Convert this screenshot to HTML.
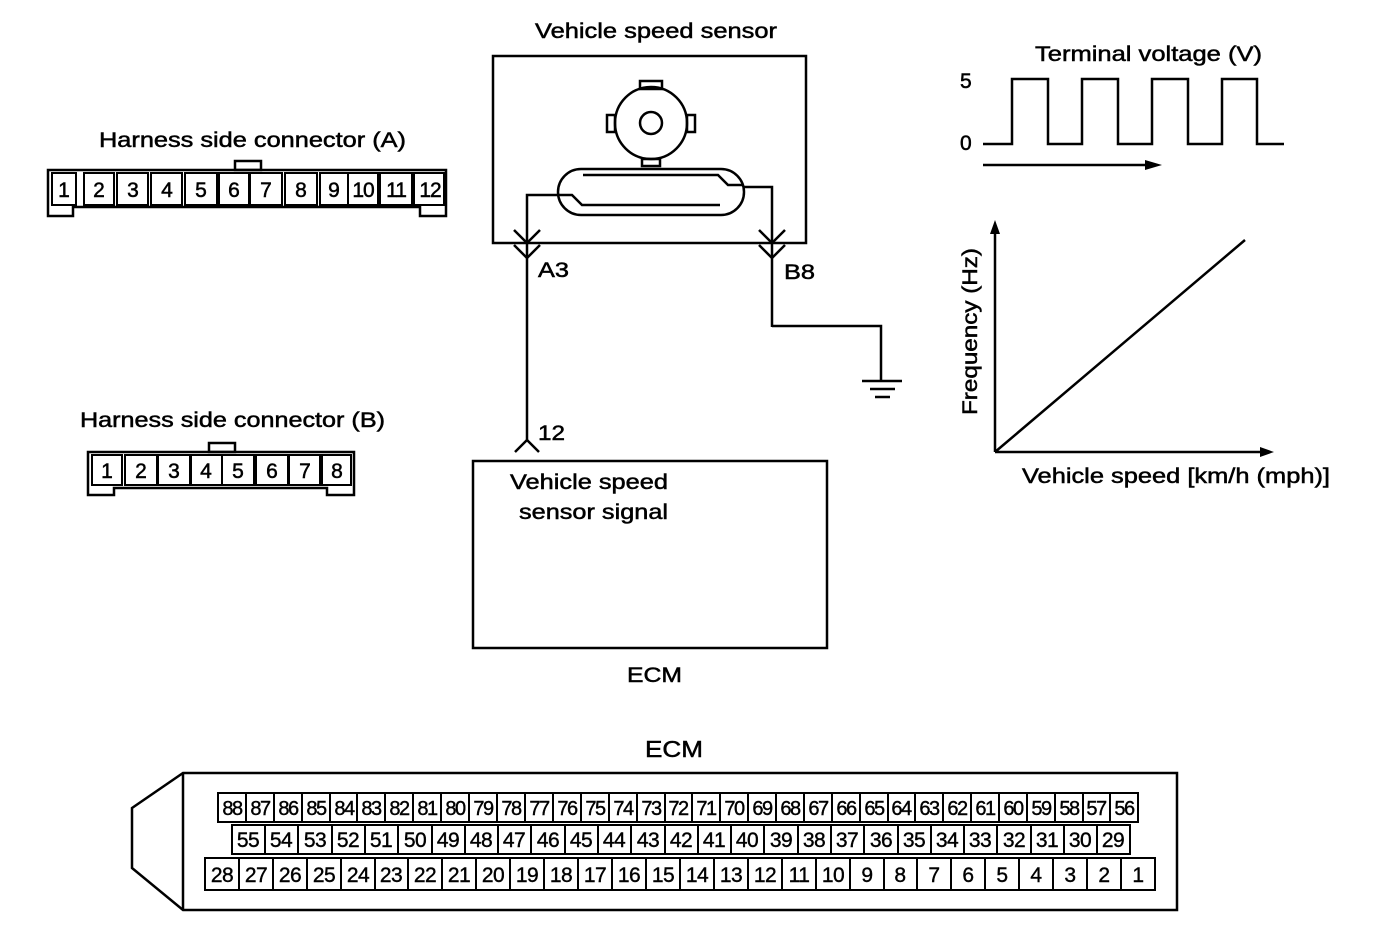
<!DOCTYPE html>
<html><head><meta charset="utf-8"><style>
html,body{margin:0;padding:0;background:#fff;}
svg{display:block;font-family:"Liberation Sans",Arial,sans-serif;}
</style></head><body>
<svg width="1392" height="938" viewBox="0 0 1392 938" xmlns="http://www.w3.org/2000/svg">
<g fill="none" stroke="#000" stroke-width="2.5">
<!-- Connector A -->
<path d="M48 170 H446 V216 H420 V207 H73 V216 H48 Z"/>
<rect x="235" y="161" width="26" height="9"/>
<g stroke-width="2">
<path d="M52 173 V205 H76 V173 Z"/>
<rect x="84" y="173" width="30" height="32"/><rect x="117" y="173" width="31" height="32"/>
<rect x="151" y="173" width="31" height="32"/><rect x="185" y="173" width="32" height="32"/>
<rect x="219" y="173" width="30" height="32"/><rect x="250" y="173" width="32" height="32"/>
<rect x="285" y="173" width="32" height="32"/><rect x="320" y="173" width="28" height="32"/>
<rect x="348" y="173" width="30" height="32"/><rect x="380" y="173" width="32" height="32"/>
<rect x="414" y="173" width="30" height="32"/>
</g>
<!-- Connector B -->
<path d="M88 452 H354 V495 H327 V488 H114 V495 H88 Z"/>
<rect x="209" y="443" width="26" height="9"/>
<g stroke-width="2">
<rect x="92" y="455" width="30" height="30"/><rect x="125" y="455" width="32" height="30"/>
<rect x="158" y="455" width="32" height="30"/><rect x="191" y="455" width="31" height="30"/>
<rect x="222" y="455" width="32" height="30"/><rect x="256" y="455" width="32" height="30"/>
<rect x="289" y="455" width="31" height="30"/><rect x="322" y="455" width="29" height="30"/>
</g>
<!-- Sensor box -->
<rect x="493" y="56" width="313" height="187"/>
<circle cx="651" cy="123" r="36"/>
<circle cx="651" cy="123" r="11"/>
<rect x="640" y="81" width="22" height="8"/><rect x="642" y="159" width="18" height="7"/>
<rect x="607" y="115" width="8" height="17"/><rect x="687" y="115" width="8" height="17"/>
<rect x="558" y="169" width="186" height="46" rx="23"/>
<path d="M583 175 H718 L728 185 H744"/>
<path d="M558 195 H572 L582 205 H720"/>
<path d="M527 270 V195 H558"/>
<path d="M744 187 H772 V327"/>
<path d="M514 230 L527 243 L540 230 M514 245 L527 258 L540 245"/>
<path d="M759 230 L772 243 L785 230 M759 245 L772 258 L785 245"/>
<path d="M527 270 V440"/>
<path d="M515 452 L527 440 L539 452"/>
<path d="M772 326 H881 V381"/>
<path d="M862 381 H902 M870 389 H895 M875 397 H890"/>
<!-- ECM box -->
<rect x="473" y="461" width="354" height="187"/>
<!-- waveform -->
<path d="M983 144 H1012 V79 H1048 V144 H1082 V79 H1118 V144 H1152 V79 H1188 V144 H1222 V79 H1257 V144 H1284"/>
<path d="M983 165 H1148"/>
<!-- graph -->
<path d="M995 452 V232 M995 452 H1262 M995 452 L1245 240"/>
<!-- ECM connector -->
<path d="M183 773 H1177 V910 H183 L132 868 V808 Z"/>
<path d="M183 773 V910"/>
</g>
<path d="M1145 160 L1162 165 L1145 170 Z"/>
<path d="M990 234 L995 220 L1000 234 Z"/>
<path d="M1260 447 L1274 452 L1260 457 Z"/>
<g font-size="21" fill="#000" stroke="#000" stroke-width="0.5" lengthAdjust="spacingAndGlyphs">
<text x="99" y="147" textLength="307" lengthAdjust="spacingAndGlyphs">Harness side connector (A)</text>
<text x="80" y="427" textLength="305" lengthAdjust="spacingAndGlyphs">Harness side connector (B)</text>
<text x="535" y="38" textLength="242" lengthAdjust="spacingAndGlyphs">Vehicle speed sensor</text>
<text x="1035" y="61" textLength="227" lengthAdjust="spacingAndGlyphs">Terminal voltage (V)</text>
<text x="960" y="88">5</text>
<text x="960" y="150">0</text>
<text x="538" y="277" textLength="31" lengthAdjust="spacingAndGlyphs">A3</text>
<text x="784" y="279" textLength="31" lengthAdjust="spacingAndGlyphs">B8</text>
<text x="538" y="440" textLength="27" lengthAdjust="spacingAndGlyphs">12</text>
<text x="510" y="489" textLength="158" lengthAdjust="spacingAndGlyphs">Vehicle speed</text>
<text x="519" y="519" textLength="149" lengthAdjust="spacingAndGlyphs">sensor signal</text>
<text x="627" y="682" textLength="55" lengthAdjust="spacingAndGlyphs">ECM</text>
<text x="645" y="757" font-size="23" textLength="58" lengthAdjust="spacingAndGlyphs">ECM</text>
<text x="1022" y="483" textLength="308" lengthAdjust="spacingAndGlyphs">Vehicle speed [km/h (mph)]</text>
<text transform="translate(977 415) rotate(-90)" textLength="167" lengthAdjust="spacingAndGlyphs">Frequency (Hz)</text>
</g>
<g font-size="21" text-anchor="middle" stroke="#000" stroke-width="0.5">
<text x="64" y="197">1</text><text x="99" y="197">2</text><text x="133" y="197">3</text><text x="167" y="197">4</text><text x="201" y="197">5</text><text x="234" y="197">6</text><text x="266" y="197">7</text><text x="301" y="197">8</text><text x="334" y="197">9</text><text x="363" y="197" letter-spacing="-1">10</text><text x="396" y="197" letter-spacing="-1">11</text><text x="430" y="197" letter-spacing="-1">12</text>
<text x="107" y="478">1</text><text x="141" y="478">2</text><text x="174" y="478">3</text><text x="206" y="478">4</text><text x="238" y="478">5</text><text x="272" y="478">6</text><text x="305" y="478">7</text><text x="337" y="478">8</text>
</g>
<!-- ECM cells -->
<g fill="none" stroke="#000" stroke-width="2">
<rect x="218" y="793" width="920" height="29"/>
<path d="M246 793V822M274 793V822M302 793V822M330 793V822M357 793V822M385 793V822M413 793V822M441 793V822M469 793V822M497 793V822M525 793V822M553 793V822M581 793V822M609 793V822M637 793V822M665 793V822M692 793V822M720 793V822M748 793V822M776 793V822M804 793V822M832 793V822M860 793V822M888 793V822M915 793V822M943 793V822M971 793V822M999 793V822M1027 793V822M1055 793V822M1083 793V822M1110 793V822"/>
<rect x="232" y="825" width="898" height="29"/>
<path d="M265 825V854M298 825V854M332 825V854M365 825V854M398 825V854M432 825V854M465 825V854M498 825V854M531 825V854M565 825V854M598 825V854M631 825V854M665 825V854M698 825V854M731 825V854M764 825V854M798 825V854M831 825V854M864 825V854M898 825V854M931 825V854M964 825V854M997 825V854M1031 825V854M1064 825V854M1097 825V854"/>
<rect x="205" y="858" width="950" height="32"/>
<path d="M239 858V890M273 858V890M307 858V890M341 858V890M375 858V890M408 858V890M442 858V890M476 858V890M510 858V890M544 858V890M578 858V890M612 858V890M646 858V890M680 858V890M714 858V890M748 858V890M782 858V890M816 858V890M850 858V890M884 858V890M917 858V890M951 858V890M985 858V890M1019 858V890M1053 858V890M1087 858V890M1121 858V890"/>
</g>
<g font-size="20" text-anchor="middle" letter-spacing="-1.5" stroke="#000" stroke-width="0.4">
<text x="232" y="815">88</text><text x="260" y="815">87</text><text x="288" y="815">86</text><text x="316" y="815">85</text><text x="344" y="815">84</text><text x="371" y="815">83</text><text x="399" y="815">82</text><text x="427" y="815">81</text><text x="455" y="815">80</text><text x="483" y="815">79</text><text x="511" y="815">78</text><text x="539" y="815">77</text><text x="567" y="815">76</text><text x="595" y="815">75</text><text x="623" y="815">74</text><text x="651" y="815">73</text><text x="678" y="815">72</text><text x="706" y="815">71</text><text x="734" y="815">70</text><text x="762" y="815">69</text><text x="790" y="815">68</text><text x="818" y="815">67</text><text x="846" y="815">66</text><text x="874" y="815">65</text><text x="901" y="815">64</text><text x="929" y="815">63</text><text x="957" y="815">62</text><text x="985" y="815">61</text><text x="1013" y="815">60</text><text x="1041" y="815">59</text><text x="1069" y="815">58</text><text x="1096" y="815">57</text><text x="1124" y="815">56</text>
</g>
<g font-size="21" text-anchor="middle" letter-spacing="-0.5" stroke="#000" stroke-width="0.4">
<text x="248" y="847">55</text><text x="281" y="847">54</text><text x="315" y="847">53</text><text x="348" y="847">52</text><text x="381" y="847">51</text><text x="415" y="847">50</text><text x="448" y="847">49</text><text x="481" y="847">48</text><text x="514" y="847">47</text><text x="548" y="847">46</text><text x="581" y="847">45</text><text x="614" y="847">44</text><text x="648" y="847">43</text><text x="681" y="847">42</text><text x="714" y="847">41</text><text x="747" y="847">40</text><text x="781" y="847">39</text><text x="814" y="847">38</text><text x="847" y="847">37</text><text x="881" y="847">36</text><text x="914" y="847">35</text><text x="947" y="847">34</text><text x="980" y="847">33</text><text x="1014" y="847">32</text><text x="1047" y="847">31</text><text x="1080" y="847">30</text><text x="1113" y="847">29</text>
<text x="222" y="882">28</text><text x="256" y="882">27</text><text x="290" y="882">26</text><text x="324" y="882">25</text><text x="358" y="882">24</text><text x="391" y="882">23</text><text x="425" y="882">22</text><text x="459" y="882">21</text><text x="493" y="882">20</text><text x="527" y="882">19</text><text x="561" y="882">18</text><text x="595" y="882">17</text><text x="629" y="882">16</text><text x="663" y="882">15</text><text x="697" y="882">14</text><text x="731" y="882">13</text><text x="765" y="882">12</text><text x="799" y="882">11</text><text x="833" y="882">10</text><text x="867" y="882">9</text><text x="900" y="882">8</text><text x="934" y="882">7</text><text x="968" y="882">6</text><text x="1002" y="882">5</text><text x="1036" y="882">4</text><text x="1070" y="882">3</text><text x="1104" y="882">2</text><text x="1138" y="882">1</text>
</g>
</svg>
</body></html>
